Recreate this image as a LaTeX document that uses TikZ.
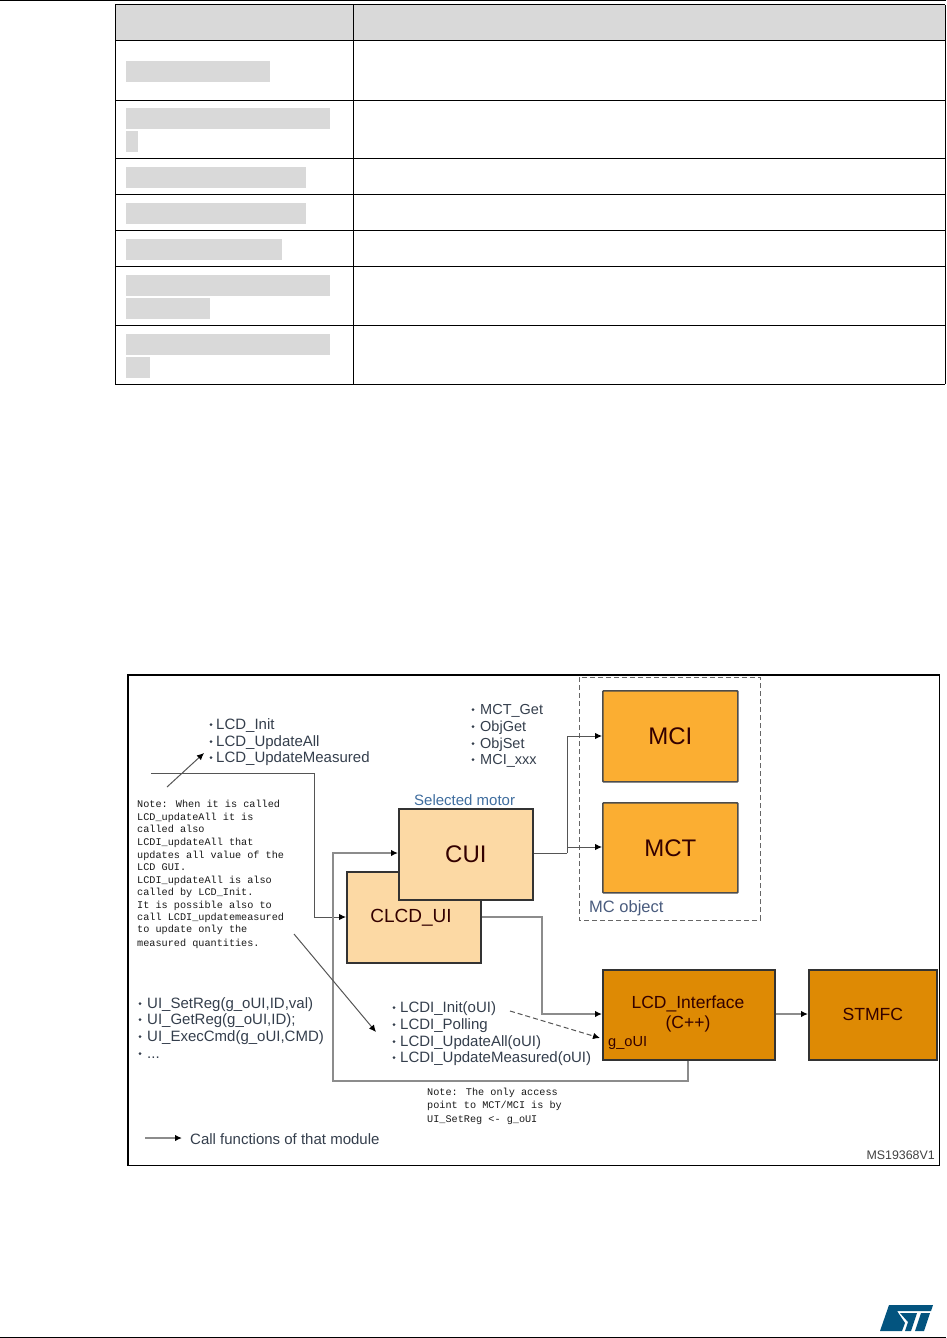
\documentclass[tikz,border=0pt]{standalone}
\usepackage{fontspec}
\setmainfont{Liberation Sans}
\newfontfamily\notefont{Liberation Mono}
\usetikzlibrary{arrows.meta}
\definecolor{cellgray}{HTML}{D9D9D9}
\definecolor{mcorange}{HTML}{FBAE32}
\definecolor{lightorange}{HTML}{FCD9A4}
\definecolor{darkorange}{HTML}{DE8A04}
\definecolor{boxedge}{HTML}{333333}
\definecolor{linkgray}{HTML}{555555}
\definecolor{heavygray}{HTML}{8C8C8C}
\definecolor{listtext}{HTML}{343E4C}
\definecolor{stblue}{HTML}{03547F}
\definecolor{labelblue}{HTML}{3F6D9E}
\definecolor{objblue}{HTML}{4A5C7E}
\tikzset{
  rule/.style={line width=1pt,black},
  block/.style={draw=boxedge,line width=1.7pt,inner sep=0pt,align=center,anchor=north west,text=black!80!red},
  mcblock/.style={block,fill=mcorange,rounded corners=0.8pt,draw=black!70},
  uiblock/.style={block,fill=lightorange},
  hwblock/.style={block,fill=darkorange},
  txt/.style={inner sep=0pt,anchor=base west,text=listtext},
  listitem/.style={txt,font=\fontsize{15}{17}\selectfont},
  notetxt/.style={inner sep=0pt,anchor=base west,text=black!90,font=\notefont\fontsize{10.2}{11}\selectfont},
  link/.style={draw=linkgray,line width=1pt,-{Latex[length=7pt,width=6.5pt,black]}},
  plainlink/.style={draw=linkgray,line width=1pt},
  heavylink/.style={draw=heavygray,line width=1.5pt,-{Latex[length=7pt,width=6.5pt,black]}},
  dashlink/.style={link,dashed,dash pattern=on 5pt off 3pt},
}
\begin{document}
\begin{tikzpicture}[x=1pt,y=-1pt]
\useasboundingbox (0,0) rectangle (946,1338);
% page rules
\draw[rule] (0,0.5) -- (946,0.5);
\draw[rule] (0,1337) -- (946,1337);
% table
\fill[cellgray] (115,5) rectangle (945,41);
\foreach \a/\b/\c/\d in {126/61/270/82,126/108/330/129,126/131/138/152,126/167/306/188,126/203/306/224,126/239/282/260,126/275/330/296,126/298/210/319,126/334/330/355,126/357/150/378}
  \fill[cellgray] (\a,\b) rectangle (\c,\d);
\draw[rule] (115,5) -- (945,5) (115,5) -- (115,384) (353,5) -- (353,384) (945,5) -- (945,384);
\foreach \y in {41,100,158,194,230,266,325,384}
  \draw[rule] (115,\y) -- (945,\y);
% figure frame
\draw[line width=1.8pt,black] (128,675) rectangle (939.5,1165.5);
% MC object group
\draw[line width=1pt,draw=black!60,dashed,dash pattern=on 5pt off 3pt] (579,677) rectangle (760,920);
\node[inner sep=0pt,anchor=base west,text=objblue,font=\fontsize{16.5}{18}\selectfont] (mcobj) at (589,912) {MC object};
% blocks
\node[mcblock,minimum width=135pt,minimum height=91pt,font=\fontsize{24}{26}\selectfont] (mci) at (602,690) {MCI};
\node[mcblock,minimum width=135pt,minimum height=90pt,font=\fontsize{24}{26}\selectfont] (mct) at (602,802) {MCT};
\node[uiblock,minimum width=134pt,minimum height=91pt] (clcd) at (346,871) {};
\node[inner sep=0pt,text=black!80!red,font=\fontsize{19}{21}\selectfont] (clcdlabel) at (411,918) {CLCD\_UI};
\node[uiblock,minimum width=134pt,minimum height=91pt,font=\fontsize{24}{26}\selectfont] (cui) at (398,808) {CUI};
\node[hwblock,minimum width=172pt,minimum height=90pt] (lcd) at (602,969) {};
\node[inner sep=0pt,align=center,text=black!80!red,font=\fontsize{17.5}{20.5}\selectfont] (lcdlabel) at (688,1014) {LCD\_Interface\\(C++)};
\node[hwblock,minimum width=128pt,minimum height=90pt,font=\fontsize{17.6}{20}\selectfont] (stmfc) at (808,969) {STMFC};
\node[inner sep=0pt,anchor=base west,text=black!80!red,font=\fontsize{14.6}{16}\selectfont] (goui) at (608,1046) {g\_oUI};
% labels
\node[txt,text=labelblue,font=\fontsize{15}{17}\selectfont] (selmotor) at (414,805) {Selected motor};
% lists
\foreach \n/\y/\t in {a1/729/LCD\_Init,a2/746/LCD\_UpdateAll,a3/762/LCD\_UpdateMeasured}{
  \node[listitem,font=\fontsize{15}{17}\selectfont] (\n) at (216,\y) {\t};
  \fill[listtext] (211,\y-4.5) circle (1.5pt);
}
\foreach \n/\y/\t in {b1/714/MCT\_Get,b2/731/ObjGet,b3/748/ObjSet,b4/764/MCI\_xxx}{
  \node[listitem,font=\fontsize{14.5}{16}\selectfont] (\n) at (480,\y) {\t};
  \fill[listtext] (473,\y-4.5) circle (1.5pt);
}
\foreach \n/\y/\t in {c1/1008/{UI\_SetReg(g\_oUI,ID,val)},c2/1024/{UI\_GetReg(g\_oUI,ID);},c3/1041/{UI\_ExecCmd(g\_oUI,CMD)},c4/1058/{...}}{
  \node[listitem] (\n) at (147,\y) {\t};
  \fill[listtext] (140,\y-4.5) circle (1.5pt);
}
\foreach \n/\y/\t in {d1/1012/{LCDI\_Init(oUI)},d2/1029/{LCDI\_Polling},d3/1046/{LCDI\_UpdateAll(oUI)},d4/1062/{LCDI\_UpdateMeasured(oUI)}}{
  \node[listitem] (\n) at (400,\y) {\t};
  \fill[listtext] (394,\y-4.5) circle (1.5pt);
}
% notes
\foreach \n/\y/\t in {e1/807/{Note: When it is called},e2/820/{LCD\_updateAll it is},e3/832/{called also},e4/845/{LCDI\_updateAll that},e5/858/{updates all value of the},e6/870/{LCD GUI.},e7/883/{LCDI\_updateAll is also},e8/895/{called by LCD\_Init.},e9/908/{It is possible also to},e10/920/{call LCDI\_updatemeasured},e11/932/{to update only the},e12/946/{measured quantities.}}
  \node[notetxt] (\n) at (137,\y) {\t};
\foreach \n/\y/\t in {f1/1095/{Note: The only access},f2/1108/{point to MCT/MCI is by},f3/1122/{UI\_SetReg <- g\_oUI}}
  \node[notetxt] (\n) at (427,\y) {\t};
% legend and id
\coordinate (legfrom) at (145,1138);
\node[txt,font=\fontsize{15}{17}\selectfont] (legend) at (190,1144) {Call functions of that module};
\coordinate (legto) at (182,1138);
\node[inner sep=0pt,anchor=base east,text=black!75,font=\fontsize{12.4}{14}\selectfont] (msid) at (935,1159) {MS19368V1};
% connectors
\coordinate (inA) at (151,773);
\draw[link] (inA) -- (314,773) -- (314,917) -- (clcd.west |- 0,917);
\coordinate (split) at (567,853);
\draw[plainlink] (cui.east |- split) -- (split);
\draw[link] (split) -- (567,736) -- (mci.west |- 0,736);
\draw[link] (split) -- (567,847) -- (mct.west |- 0,847);
\draw[heavylink] (clcd.east |- 0,917) -- (542,917) -- (542,1014) -- (lcd.west |- 0,1014);
\draw[heavylink] (lcd.east |- 0,1014) -- (stmfc.west |- 0,1014);
\draw[heavylink] (lcd.south -| 688,0) -- (688,1081) -- (333,1081) -- (333,853) -- (cui.west |- 0,853);
\coordinate (dashfrom) at (510,1011);
\coordinate (dashto) at (600,1038);
\draw[dashlink] (dashfrom) -- (dashto);
\coordinate (n1a) at (167,787);
\coordinate (n1b) at (204,753);
\draw[link] (n1a) -- (n1b);
\coordinate (n2a) at (294,934);
\coordinate (n2b) at (376,1032);
\draw[link] (n2a) -- (n2b);
\draw[heavylink] (legfrom) -- (legto);
% ST logo
\fill[stblue] (889,1305) -- (933,1305) -- (931,1311) -- (897,1311) -- (905,1323) -- (902,1331) -- (880,1331) -- cycle;
\fill[stblue] (900,1313) -- (917,1313) -- (911,1331) -- (905,1331) -- (908,1322) -- cycle;
\fill[stblue] (921,1313) -- (930,1313) -- (924,1331) -- (915,1331) -- cycle;
\end{tikzpicture}
\end{document}
